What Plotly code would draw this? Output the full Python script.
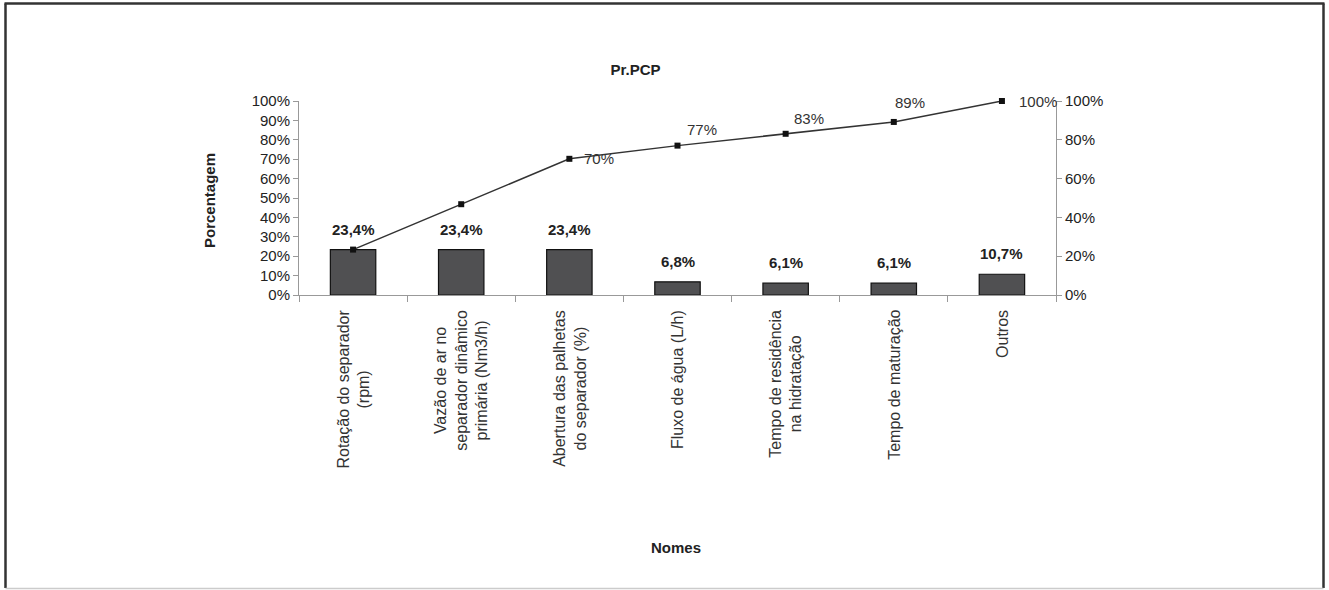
import plotly.graph_objects as go

categories = [
    "Rotação do separador<br>(rpm)",
    "Vazão de ar no<br>separador dinâmico<br>primária (Nm3/h)",
    "Abertura das palhetas<br>do separador (%)",
    "Fluxo de água (L/h)",
    "Tempo de residência<br>na hidratação",
    "Tempo de maturação",
    "Outros",
]
bar_values = [23.4, 23.4, 23.4, 6.8, 6.1, 6.1, 10.7]
bar_labels = ["23,4%", "23,4%", "23,4%", "6,8%", "6,1%", "6,1%", "10,7%"]
cum_values = [23.4, 46.8, 70.2, 77.0, 83.1, 89.2, 100.0]
cum_labels = ["", "", "70%", "77%", "83%", "89%", "100%"]
left_ticks = [0, 10, 20, 30, 40, 50, 60, 70, 80, 90, 100]
right_ticks = [0, 20, 40, 60, 80, 100]

# label offsets (pixels) for the cumulative line labels
cum_xshift = [0, 0, 13, 7, 6, -1, 15]
cum_yshift = [0, 0, 0, 16, 15, 19, 0]

FONT = "Liberation Sans, Arial, sans-serif"
W, H = 1329, 590
ML, MR, MT, MB = 299, 273, 101, 295

fig = go.Figure()
fig.add_trace(go.Bar(
    x=categories, y=bar_values, width=0.42,
    marker=dict(color="#505052", line=dict(color="#111111", width=1.2)),
    yaxis="y", showlegend=False, hoverinfo="skip",
))
fig.add_trace(go.Scatter(
    x=categories, y=cum_values, mode="lines+markers",
    line=dict(color="#333333", width=1.5),
    marker=dict(symbol="square", size=6, color="#111111"),
    cliponaxis=False, yaxis="y2", showlegend=False, hoverinfo="skip",
))

plot_w = W - ML - MR
plot_h = H - MT - MB

def px_x(p):
    return (p - ML) / plot_w

def px_y(p):
    return (H - MB - p) / plot_h

cat_annotations = [
    dict(text=c, xref="x", yref="paper", x=c, y=px_y(308),
         xanchor="center", yanchor="top", showarrow=False, textangle=-90,
         align="center", font=dict(size=16, color="#333333"))
    for c in categories
]
bar_annotations = [
    dict(text=f"<b>{t}</b>", xref="x", yref="y", x=c, y=v,
         xanchor="center", yanchor="bottom", yshift=10, showarrow=False,
         font=dict(size=15, color="#222222"))
    for c, v, t in zip(categories, bar_values, bar_labels)
]
cum_annotations = [
    dict(text=t, xref="x", yref="y2", x=c, y=v,
         xanchor="left", yanchor="middle", xshift=dx, yshift=dy, showarrow=False,
         font=dict(size=15, color="#333333"))
    for c, v, t, dx, dy in zip(categories, cum_values, cum_labels, cum_xshift, cum_yshift)
    if t
]

border = dict(color="#333333", width=2.5)
fig.update_layout(
    width=W, height=H,
    margin=dict(l=ML, r=MR, t=MT, b=MB, autoexpand=False),
    paper_bgcolor="white", plot_bgcolor="white",
    font=dict(family=FONT, size=15, color="#222222"),
    title=dict(text="<b>Pr.PCP</b>", x=px_x(661), xanchor="center",
               y=1 - 70 / H, yanchor="middle", font=dict(size=15, color="#222222")),
    xaxis=dict(
        type="category", showline=True, linecolor="#999999", linewidth=1,
        ticks="outside", tickson="boundaries", ticklen=6, tickcolor="#999999",
        showticklabels=False, showgrid=False, range=[-0.5, 6.5],
    ),
    yaxis=dict(
        range=[0, 100], tickvals=left_ticks, ticktext=[f"{v}%" for v in left_ticks],
        showline=True, linecolor="#999999", linewidth=1, ticks="outside",
        ticklen=5, tickcolor="#999999", showgrid=False, zeroline=False,
        tickfont=dict(size=15, color="#222222"),
    ),
    yaxis2=dict(
        range=[0, 100], tickvals=right_ticks, ticktext=[f"{v}%" for v in right_ticks],
        overlaying="y", side="right",
        showline=True, linecolor="#999999", linewidth=1, ticks="outside",
        ticklen=5, tickcolor="#999999", showgrid=False, zeroline=False,
        tickfont=dict(size=15, color="#222222"),
    ),
    annotations=cat_annotations + bar_annotations + cum_annotations + [
        dict(text="<b>Nomes</b>", xref="paper", yref="paper", x=px_x(676), y=px_y(547),
             xanchor="center", yanchor="middle", showarrow=False,
             font=dict(size=15, color="#222222")),
        dict(text="<b>Porcentagem</b>", xref="paper", yref="paper", x=px_x(209), y=px_y(201),
             xanchor="center", yanchor="middle", showarrow=False, textangle=-90,
             font=dict(size=15, color="#222222")),
    ],
    shapes=[
        dict(type="line", xref="paper", yref="paper", x0=px_x(5.5), x1=px_x(5.5),
             y0=px_y(588), y1=px_y(3.5), line=border, layer="below"),
        dict(type="line", xref="paper", yref="paper", x0=px_x(4.5), x1=px_x(1324.5),
             y0=px_y(3.5), y1=px_y(3.5), line=border, layer="below"),
        dict(type="line", xref="paper", yref="paper", x0=px_x(1323.5), x1=px_x(1323.5),
             y0=px_y(588), y1=px_y(3.5), line=border, layer="below"),
        dict(type="line", xref="paper", yref="paper", x0=px_x(5.5), x1=px_x(1323.5),
             y0=px_y(588.5), y1=px_y(588.5), line=dict(color="#cccccc", width=1.5),
             layer="below"),
    ],
)

fig.write_html(
    "out.html",
    config={"displayModeBar": False},
    post_script="document.body.style.margin='0';document.body.style.overflow='hidden';",
)
